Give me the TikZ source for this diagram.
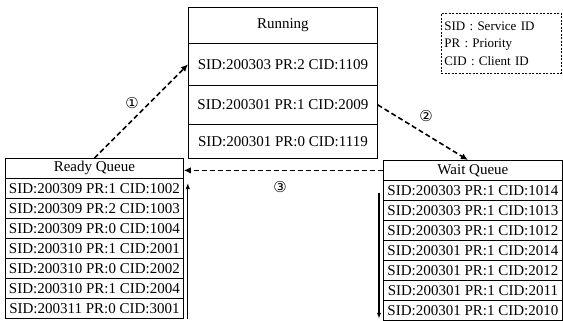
\documentclass[tikz,border=0pt]{standalone}
\usepackage{fontspec}
\setmainfont{Liberation Serif}
\newfontfamily\circfont{DejaVu Sans}
\usetikzlibrary{arrows.meta}
\begin{document}
\begin{tikzpicture}[x=1pt,y=-1pt]
\tikzset{
 cell/.style={draw, line width=0.8pt, inner sep=0pt, anchor=north west, font=\fontsize{15}{17}\selectfont},
 qcell/.style={cell, minimum width=178pt, minimum height=20pt},
 rcell/.style={cell, minimum width=189pt},
 flow/.style={line width=1.6pt, dash pattern=on 5pt off 3pt, -{Latex[length=7pt,width=6.5pt]}},
 side/.style={line width=1.3pt, -{Latex[length=6pt,width=4.5pt]}},
 num/.style={font=\circfont\fontsize{15}{15}\selectfont, inner sep=0pt},
 legendbox/.style={draw, line width=0.6pt, dash pattern=on 2pt off 1.5pt, anchor=north west,
   minimum width=120pt, minimum height=60pt, text width=114pt, align=left, inner sep=3pt,
   font=\fontsize{13}{17.5}\selectfont}
}
\useasboundingbox (0,0) rectangle (563,321);
% Running
\node[rcell, minimum height=36pt] (run0) at (188,7) {Running};
\node[rcell, minimum height=42pt] (run1) at (188,43) {SID:200303 PR:2 CID:1109};
\node[rcell, minimum height=39pt] (run2) at (188,85) {SID:200301 PR:1 CID:2009};
\node[rcell, minimum height=34pt] (run3) at (188,124) {SID:200301 PR:0 CID:1119};
% Legend
\node[legendbox] (legend) at (441,13) {SID : Service ID\\PR : Priority\\CID : Client ID};
% Ready queue
\node[qcell] (rq0) at (5,158) {Ready Queue};
\foreach \i/\t in {1/{SID:200309 PR:1 CID:1002},2/{SID:200309 PR:2 CID:1003},3/{SID:200309 PR:0 CID:1004},
  4/{SID:200310 PR:1 CID:2001},5/{SID:200310 PR:0 CID:2002},6/{SID:200310 PR:1 CID:2004},7/{SID:200311 PR:0 CID:3001}}
  \node[qcell] (rq\i) at (5,{178+20*(\i-1)}) {\t};
% Wait queue
\node[qcell, minimum width=179pt] (wq0) at (383,160) {Wait Queue};
\foreach \i/\t in {1/{SID:200303 PR:1 CID:1014},2/{SID:200303 PR:1 CID:1013},3/{SID:200303 PR:1 CID:1012},
  4/{SID:200301 PR:1 CID:2014},5/{SID:200301 PR:1 CID:2012},6/{SID:200301 PR:1 CID:2011},7/{SID:200301 PR:1 CID:2010}}
  \node[qcell, minimum width=179pt] (wq\i) at (383,{180+20*(\i-1)}) {\t};
% flows
\draw[flow] (rq0.north) -- (run1.west);
\draw[flow] (run2.east) -- ([xshift=-5pt]wq0.north);
\draw[flow] (wq0.west) -- (wq0.west -| rq0.east);
\node[num] (n1) at (132,103) {①};
\node[num] (n2) at (426,116) {②};
\node[num] (n3) at (280,187) {③};
% side arrows
\coordinate (la0) at ([xshift=4pt]rq7.south east);
\coordinate (la1) at ([xshift=4pt,yshift=-5pt]rq1.north east);
\draw[side] (la0) -- (la1);
\coordinate (ra0) at ([xshift=-4pt,yshift=-13pt]wq1.north west);
\coordinate (ra1) at ([xshift=-4pt,yshift=2pt]wq7.south west);
\draw[side] (ra0) -- (ra1);
\end{tikzpicture}
\end{document}
